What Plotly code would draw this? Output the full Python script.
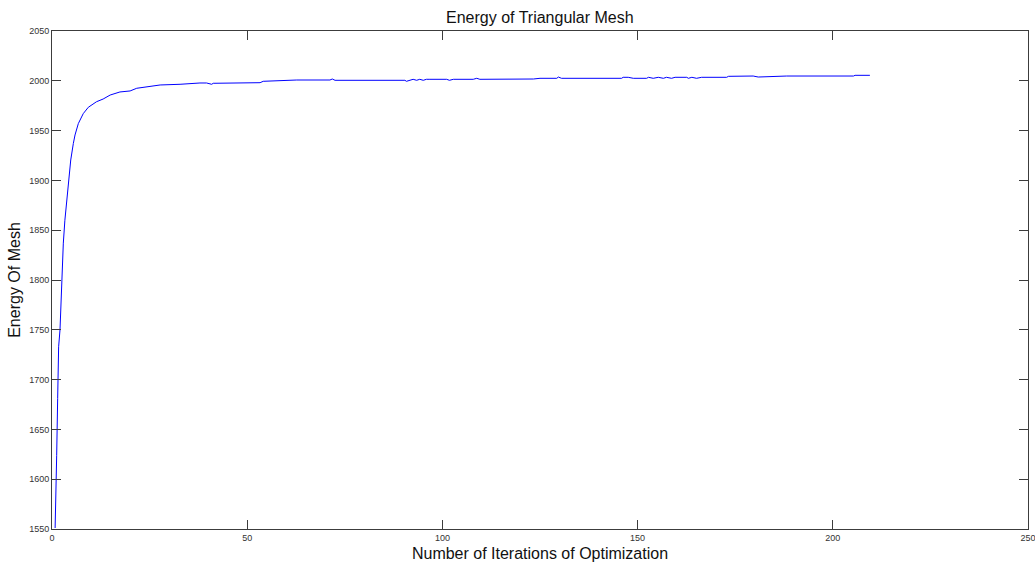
import plotly.graph_objects as go

iterations = [0.8, 0.95, 1.2, 1.45, 1.7, 2.05, 2.5, 2.9, 3.3, 3.76, 4.2, 4.8, 5.46, 5.9, 6.74,
              8.0, 9.3, 11.4, 13.1, 14.9, 17.4, 20.0, 21.7, 26.0, 27.7, 32.8, 35.3, 37.9, 39.6,
              40.9, 41.3, 47.3, 53.3, 54.1, 57.5, 62.7, 71.2, 71.8, 72.5, 90.4, 90.8, 92.5, 93.4,
              94.2, 95.1, 95.9, 96.8, 101.1, 101.8, 102.8, 107.9, 108.8, 109.6, 112.2, 112.6,
              114.8, 120.7, 121.2, 122.4, 123.3, 125.0, 129.3, 129.7, 130.5, 145.9, 146.3, 147.6,
              148.9, 152.3, 152.8, 154.0, 155.3, 156.6, 157.4, 158.7, 159.6, 162.6, 163.0, 163.9,
              165.1, 166.4, 172.8, 173.3, 177.1, 177.9, 179.6, 180.9, 183.1, 185.6, 187.3, 188.2,
              205.3, 205.7, 209.5]
energy = [1551, 1596, 1624, 1681, 1733, 1750, 1800, 1837, 1860, 1880, 1897, 1920.5, 1937, 1945.6, 1957,
          1967, 1973.4, 1979, 1981.7, 1985.7, 1988.8, 1989.8, 1992.5, 1994.8, 1995.8, 1996.5, 1997.5, 1997.8, 1997.8,
          1996.5, 1997.5, 1997.5, 1998.1, 1999.5, 2000.1, 2000.8, 2000.8, 2001.8, 2000.5, 2000.5, 1999.5, 2001.5, 2000.5,
          2001.5, 2000.5, 2001.5, 2001.5, 2001.5, 2000.5, 2001.5, 2001.5, 2002.5, 2001.5, 2001.5, 2002.1,
          2002.1, 2001.8, 2001.5, 2002.1, 2001.8, 2002.5, 2002.5, 2003.8, 2002.5, 2002.5, 2003.5, 2003.5,
          2002.5, 2002.5, 2003.5, 2002.5, 2003.5, 2002.5, 2003.5, 2002.5, 2003.5, 2003.5, 2002.5, 2003.5,
          2002.5, 2003.5, 2003.5, 2004.5, 2004.5, 2004.8, 2004.8, 2003.8, 2004.2, 2004.2, 2004.8, 2004.8,
          2004.8, 2005.5, 2005.5]

x_ticks = [0, 50, 100, 150, 200, 250]
y_ticks = [1550, 1600, 1650, 1700, 1750, 1800, 1850, 1900, 1950, 2000, 2050]

fig = go.Figure()
fig.add_trace(go.Scatter(x=iterations, y=energy, mode="lines",
                         line=dict(color="#0000ff", width=1), showlegend=False))

axis_common = dict(
    showgrid=False, zeroline=False, showline=True, linecolor="#3c3c3c", linewidth=1,
    mirror="ticks", ticks="inside", ticklen=9, tickcolor="#3c3c3c", tickwidth=1,
    ticklabeloverflow="allow",
    tickfont=dict(family="Liberation Sans, Arial", size=9, color="#333333"),
)

fig.update_layout(
    width=1035, height=566,
    margin=dict(l=52, r=7, t=31, b=37, autoexpand=False),
    paper_bgcolor="white", plot_bgcolor="white",
    title=dict(text="Energy of Triangular Mesh", x=0.5216, xanchor="center", y=0.97, yanchor="middle",
               font=dict(family="Liberation Sans, Arial", size=16, color="#111111")),
    xaxis=dict(range=[0, 250], tickvals=x_ticks, ticktext=[str(v) for v in x_ticks],
               title=dict(text="Number of Iterations of Optimization", standoff=6,
                          font=dict(family="Liberation Sans, Arial", size=16, color="#111111")),
               **axis_common),
    yaxis=dict(range=[1550, 2050], tickvals=y_ticks, ticktext=[str(v) for v in y_ticks],
               title=dict(text="Energy Of Mesh", standoff=4,
                          font=dict(family="Liberation Sans, Arial", size=16, color="#111111")),
               **axis_common),
)

fig.write_html("out.html")
